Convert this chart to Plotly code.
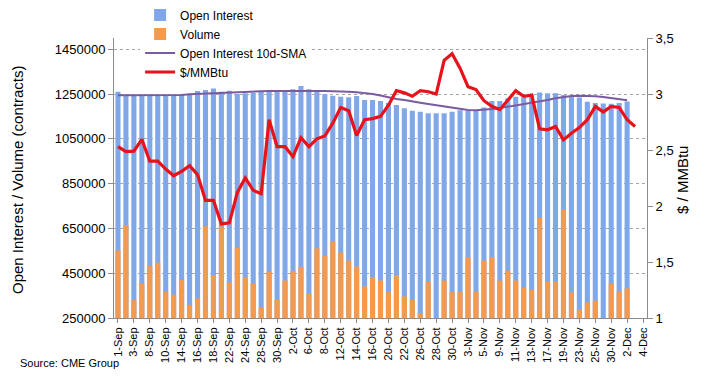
import plotly.graph_objects as go

dates = ["1-Sep","2-Sep","3-Sep","4-Sep","8-Sep","9-Sep","10-Sep","11-Sep","14-Sep","15-Sep",
         "16-Sep","17-Sep","18-Sep","21-Sep","22-Sep","23-Sep","24-Sep","25-Sep","28-Sep","29-Sep",
         "30-Sep","1-Oct","2-Oct","5-Oct","6-Oct","7-Oct","8-Oct","9-Oct","12-Oct","13-Oct",
         "14-Oct","15-Oct","16-Oct","19-Oct","20-Oct","21-Oct","22-Oct","23-Oct","26-Oct","27-Oct",
         "28-Oct","29-Oct","30-Oct","2-Nov","3-Nov","4-Nov","5-Nov","6-Nov","9-Nov","10-Nov",
         "11-Nov","12-Nov","13-Nov","16-Nov","17-Nov","18-Nov","19-Nov","20-Nov","23-Nov","24-Nov",
         "25-Nov","27-Nov","30-Nov","1-Dec","2-Dec","3-Dec","4-Dec"]

open_interest = [1260000,1242000,1242000,1242000,1241000,1241000,1241000,1241000,1250000,1250000,
                 1263000,1268000,1275000,1260000,1265000,1250000,1253000,1256000,1265000,1265000,
                 1268000,1265000,1271000,1286000,1271000,1262000,1250000,1242000,1238000,1236000,
                 1241000,1223000,1223000,1219000,1211000,1201000,1186000,1175000,1171000,1164000,
                 1164000,1164000,1171000,1178000,1174000,1178000,1190000,1219000,1219000,1231000,
                 1238000,1234000,1248000,1257000,1253000,1253000,1245000,1238000,1234000,1215000,
                 1210000,1208000,1207000,1210000,1216000]

volume = [551000,665000,331000,402000,482000,497000,367000,354000,420000,309000,
          337000,660000,442000,657000,408000,564000,431000,402000,297000,457000,
          331000,417000,460000,478000,358000,561000,527000,591000,542000,506000,
          480000,391000,431000,417000,367000,442000,346000,331000,271000,411000,
          245000,417000,367000,367000,521000,368000,506000,521000,417000,462000,
          417000,386000,376000,697000,413000,413000,737000,364000,287000,320000,
          327000,245000,404000,368000,382000]

oi_sma10 = [1244000,1244000,1244000,1244000,1244000,1244000,1244000,1244000,1245500,1248500,
            1250000,1251500,1254500,1257500,1259000,1260400,1262000,1262000,1262500,1263000,
            1263400,1264000,1264900,1265300,1265600,1265000,1263400,1262000,1262000,1260400,
            1257500,1254500,1250000,1243000,1234000,1228000,1223000,1218700,1211300,1205300,
            1199300,1194900,1188900,1183000,1178500,1177000,1178500,1183000,1187400,1193400,
            1197900,1202300,1209800,1215700,1223000,1230600,1236600,1241000,1242500,1241800,
            1239600,1236600,1232100,1227600,1221700]

price = [2.53,2.485,2.49,2.595,2.40,2.40,2.33,2.27,2.31,2.36,
         2.28,2.05,2.05,1.84,1.85,2.12,2.25,2.14,2.11,2.77,
         2.53,2.53,2.44,2.61,2.53,2.60,2.625,2.74,2.88,2.85,
         2.63,2.77,2.78,2.80,2.90,3.03,3.01,2.98,3.03,3.02,
         3.00,3.30,3.36,3.23,3.065,3.04,2.94,2.89,2.86,2.95,
         3.03,2.98,2.99,2.69,2.68,2.71,2.59,2.65,2.70,2.77,
         2.89,2.84,2.89,2.88,2.77,2.71]

left_ticks = [250000, 450000, 650000, 850000, 1050000, 1250000, 1450000]
right_ticks = [1, 1.5, 2, 2.5, 3, 3.5]
right_ticktext = ["1", "1,5", "2", "2,5", "3", "3,5"]

FONT = "Liberation Sans, Arial, sans-serif"

fig = go.Figure()
fig.add_trace(go.Bar(x=dates[:len(open_interest)], y=open_interest, name="Open Interest",
                     marker=dict(color="#80A8E8", line=dict(width=0))))
fig.add_trace(go.Bar(x=dates[:len(volume)], y=volume, name="Volume",
                     marker=dict(color="#F39A4E", line=dict(width=0))))
fig.add_trace(go.Scatter(x=dates[:len(oi_sma10)], y=oi_sma10, name="Open Interest 10d-SMA",
                         mode="lines", line=dict(color="#7B5BA0", width=2)))
fig.add_trace(go.Scatter(x=dates[:len(price)], y=price, name="$/MMBtu", yaxis="y2",
                         mode="lines", line=dict(color="#E8121A", width=3.2)))

# page body has an 8px margin, so the figure is sized/offset to compensate
fig.update_layout(
    width=695, height=363,
    margin=dict(l=106, r=56, t=30, b=53, autoexpand=False),
    paper_bgcolor="white", plot_bgcolor="white",
    font=dict(family=FONT, color="#000000", size=12),
    barmode="overlay", bargap=0.36,
    showlegend=True,
    legend=dict(x=0.049, y=1.134, xanchor="left", yanchor="top",
                bgcolor="white", font=dict(size=12), traceorder="normal",
                itemwidth=30, tracegroupgap=0),
    xaxis=dict(type="category", categoryorder="array", categoryarray=dates,
               range=[-0.5, len(dates) - 0.5], automargin=False,
               tickmode="array", tickvals=dates[::2], ticktext=dates[::2],
               tickangle=-90, tickfont=dict(size=11),
               showline=True, linecolor="#8c8c8c", linewidth=1,
               ticks="outside", ticklen=4, tickcolor="#8c8c8c",
               showgrid=False, zeroline=False),
    yaxis=dict(range=[250000, 1500000], tickmode="array", tickvals=left_ticks,
               tickformat="d", tickfont=dict(size=13), automargin=False,
               showline=True, linecolor="#8c8c8c", linewidth=1,
               ticks="outside", ticklen=5, tickcolor="#8c8c8c",
               showgrid=True, gridcolor="#a6a6a6", griddash="dot", gridwidth=1,
               zeroline=False),
    yaxis2=dict(range=[1, 3.5], overlaying="y", side="right", automargin=False,
                tickmode="array", tickvals=right_ticks, ticktext=right_ticktext,
                tickfont=dict(size=13),
                showline=True, linecolor="#8c8c8c", linewidth=1,
                ticks="outside", ticklen=5, tickcolor="#8c8c8c",
                showgrid=False, zeroline=False),
    annotations=[
        dict(text="Open Interest / Volume (contracts)", textangle=-90,
             xref="paper", yref="paper", x=-0.18, y=0.493,
             xanchor="center", yanchor="middle", showarrow=False,
             font=dict(size=15)),
        dict(text="$ / MMBtu", textangle=-90,
             xref="paper", yref="paper", x=1.0675, y=0.493,
             xanchor="center", yanchor="middle", showarrow=False,
             font=dict(size=15)),
        dict(text="Source: CME Group",
             xref="paper", yref="paper", x=-0.181, y=-0.161,
             xanchor="left", yanchor="middle", showarrow=False,
             font=dict(size=11)),
    ],
)

fig.write_html("out.html")
